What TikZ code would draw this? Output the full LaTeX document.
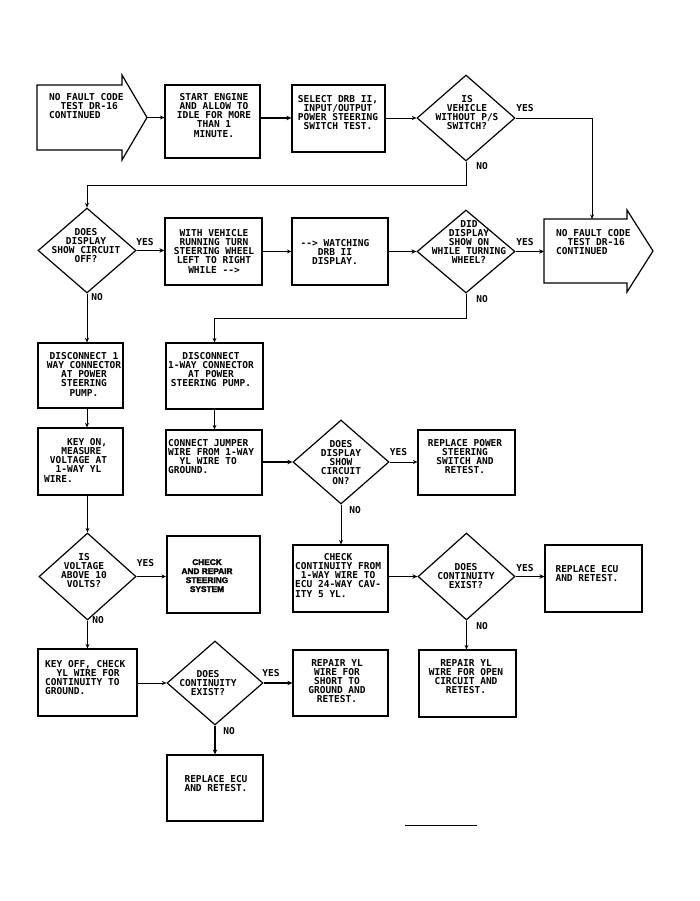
\documentclass[tikz,border=0pt]{standalone}
\usepackage{fontspec}
\setmonofont{DejaVu Sans Mono}
\newfontfamily\boldsansfam{Liberation Sans}[UprightFont=* Bold, FakeBold=2.5]
\usetikzlibrary{shapes.geometric,arrows.meta}
\newcommand\plotfont{\ttfamily\bfseries\fontsize{9.5}{9.2}\selectfont\lineskiplimit=-5pt\lineskip=0pt}
\begin{document}
\begin{tikzpicture}[x=1pt,y=-1pt,
  box/.style={draw, line width=1.2pt, inner sep=0pt, rectangle},
  dia/.style={draw, line width=1.2pt, diamond, inner sep=0pt},
  txt/.style={font=\plotfont, align=center, inner sep=0pt, anchor=north},
  ltxt/.style={font=\plotfont, align=left, inner sep=0pt, anchor=north west},
  lab/.style={font=\plotfont, inner sep=0pt},
  con/.style={line width=0.9pt, -{Stealth[length=4.5pt,width=4pt]}},
  tcon/.style={line width=1.8pt, -{Stealth[length=5pt,width=4.5pt]}},
]
\fill[white] (0,0) rectangle (699,901);
\useasboundingbox (0,0) rectangle (699,901);

% ---- start / end arrows
\draw[line width=1.2pt] (37,85) -- (122,85) -- (122,75) -- (147,117.5) -- (122,160) -- (122,150) -- (37,150) -- cycle;
\coordinate (a1tip) at (147,117.5);
\node[ltxt] (a1t) at (49,93) {NO FAULT CODE\\\phantom{XX}TEST DR-16\\CONTINUED};

\draw[line width=1.2pt] (544,219) -- (627,219) -- (627,210) -- (653,251) -- (627,292) -- (627,283) -- (544,283) -- cycle;
\coordinate (a2top) at (592,219);
\coordinate (a2left) at (544,251.5);
\node[ltxt] (a2t) at (556,229) {NO FAULT CODE\\\phantom{XX}TEST DR-16\\CONTINUED};

% ---- boxes
\node[box, minimum width=95pt, minimum height=73pt] (b2) at (212.5,121.5) {};
\node[txt] (b2t) at (214,93) {START ENGINE\\AND ALLOW TO\\IDLE FOR MORE\\THAN 1\\MINUTE.};

\node[box, minimum width=93pt, minimum height=67pt] (b3) at (338.5,118.5) {};
\node[txt] (b3t) at (338,95) {SELECT DRB II,\\INPUT/OUTPUT\\POWER STEERING\\SWITCH TEST.};

\node[box, minimum width=97pt, minimum height=67pt] (b4) at (213.5,251.5) {};
\node[txt] (b4t) at (214,229) {WITH VEHICLE\\RUNNING TURN\\STEERING WHEEL\\LEFT TO RIGHT\\WHILE -->};

\node[box, minimum width=96pt, minimum height=67pt] (b5) at (340,251.5) {};
\node[txt] (b5t) at (335,239) {--> WATCHING\\DRB II\\DISPLAY.};

\node[box, minimum width=85pt, minimum height=65pt] (b6) at (80.5,375.5) {};
\node[txt] (b6t) at (84,352) {DISCONNECT 1\\WAY CONNECTOR\\AT POWER\\STEERING\\PUMP.};

\node[box, minimum width=97pt, minimum height=66pt] (b7) at (214.5,376) {};
\node[txt] (b7t) at (211,352) {DISCONNECT\\1-WAY CONNECTOR\\AT POWER\\STEERING PUMP.};

\node[box, minimum width=85pt, minimum height=67pt] (b8) at (80.5,461.5) {};
\node[ltxt] (b8t) at (44,438) {\phantom{XXXX}KEY ON,\\\phantom{XXX}MEASURE\\\phantom{X}VOLTAGE AT\\\phantom{XX}1-WAY YL\\WIRE.};

\node[box, minimum width=96pt, minimum height=65pt] (b9) at (214,462.5) {};
\node[ltxt] (b9t) at (168,439) {CONNECT JUMPER\\WIRE FROM 1-WAY\\\phantom{XX}YL WIRE TO\\GROUND.};

\node[box, minimum width=97pt, minimum height=65pt] (b10) at (466.5,462.5) {};
\node[txt] (b10t) at (465,439) {REPLACE POWER\\STEERING\\SWITCH AND\\RETEST.};

\node[box, line width=2pt, minimum width=93pt, minimum height=77pt] (b11) at (213.5,574.5) {};
\node[font=\boldsansfam\fontsize{8.3}{9}\selectfont, align=center, inner sep=0pt, anchor=north] (b11t) at (207,559) {CHECK\\AND REPAIR\\STEERING\\SYSTEM};

\node[box, minimum width=95pt, minimum height=67pt] (b12) at (340.5,578.5) {};
\node[ltxt] (b12t) at (295,553) {\phantom{XXXXX}CHECK\\CONTINUITY FROM\\\phantom{X}1-WAY WIRE TO\\ECU 24-WAY CAV-\\ITY 5 YL.};

\node[box, minimum width=97pt, minimum height=67pt] (b13) at (593.5,578.5) {};
\node[txt] (b13t) at (587,565) {REPLACE ECU\\AND RETEST.};

\node[box, minimum width=97pt, minimum height=67pt] (b14) at (467.5,683.5) {};
\node[txt] (b14t) at (466,659) {REPAIR YL\\WIRE FOR OPEN\\CIRCUIT AND\\RETEST.};

\node[box, minimum width=99pt, minimum height=67pt] (b15) at (87.5,682.5) {};
\node[ltxt] (b15t) at (45,660) {KEY OFF, CHECK\\\phantom{XX}YL WIRE FOR\\CONTINUITY TO\\GROUND.};

\node[box, minimum width=95pt, minimum height=66pt] (b16) at (340.5,683) {};
\node[txt] (b16t) at (337,659) {REPAIR YL\\WIRE FOR\\SHORT TO\\GROUND AND\\RETEST.};

\node[box, minimum width=96pt, minimum height=66pt] (b17) at (215,788) {};
\node[txt] (b17t) at (216,775) {REPLACE ECU\\AND RETEST.};

% ---- diamonds
\node[dia, minimum width=98pt, minimum height=86pt] (d1) at (466,118) {};
\node[txt] (d1t) at (467,95) {IS\\VEHICLE\\WITHOUT P/S\\SWITCH?};

\node[dia, minimum width=98pt, minimum height=85pt] (d2) at (87,250.5) {};
\node[txt] (d2t) at (86,228) {DOES\\DISPLAY\\SHOW CIRCUIT\\OFF?};

\node[dia, minimum width=98pt, minimum height=83pt] (d3) at (466,251.5) {};
\node[txt] (d3t) at (469,220) {DID\\DISPLAY\\SHOW ON\\WHILE TURNING\\WHEEL?};

\node[dia, minimum width=96pt, minimum height=84pt] (d4) at (341,462) {};
\node[txt] (d4t) at (341,440) {DOES\\DISPLAY\\SHOW\\CIRCUIT\\ON?};

\node[dia, minimum width=97pt, minimum height=87pt] (d5) at (87.5,576.5) {};
\node[txt] (d5t) at (84,553) {IS\\VOLTAGE\\ABOVE 10\\VOLTS?};

\node[dia, minimum width=97pt, minimum height=87pt] (d6) at (466.5,576.5) {};
\node[txt] (d6t) at (466,563) {DOES\\CONTINUITY\\EXIST?};

\node[dia, minimum width=96pt, minimum height=84pt] (d7) at (215,683) {};
\node[txt] (d7t) at (208,670) {DOES\\CONTINUITY\\EXIST?};

% ---- YES / NO labels
\node[lab] (y1) at (525,108.5) {YES};
\node[lab] (n1) at (482,166.5) {NO};
\node[lab] (y2) at (145,242) {YES};
\node[lab] (n2) at (97,297.5) {NO};
\node[lab] (y3) at (525,242) {YES};
\node[lab] (n3) at (482,299) {NO};
\node[lab] (y4) at (398.5,452.5) {YES};
\node[lab] (n4) at (355,510.5) {NO};
\node[lab] (y5) at (145.5,563.5) {YES};
\node[lab] (n5) at (98,620) {NO};
\node[lab] (y6) at (525,568) {YES};
\node[lab] (n6) at (482,626) {NO};
\node[lab] (y7) at (271,673.5) {YES};
\node[lab] (n7) at (229,731) {NO};

% ---- connectors
\coordinate (j1) at (466,185);
\coordinate (j2) at (466,318);
\draw[con] (a1tip) -- (a1tip -| b2.west);
\draw[tcon] (b2.east |- d1) -- (b3.west |- d1);
\draw[con] (b3.east |- d1) -- (d1.west);
\draw[con] (d1.east) -| (a2top);
\draw[con] (d1.south) -- (j1) -| (d2.north);
\draw[tcon] (d2.east) -- (d2.east -| b4.west);
\draw[con] (b4.east) -- (b5.west);
\draw[tcon] (b5.east) -- (d3.west);
\draw[tcon] (d3.east) -- (a2left);
\draw[con] (d3.south) -- (j2) -| (b7.north);
\draw[con] (d2.south) -- (d2.south |- b6.north);
\draw[con] (d2.south |- b6.south) -- (d2.south |- b8.north);
\draw[con] (b7.south) -- (b7.south |- b9.north);
\draw[tcon] (b9.east |- d4) -- (d4.west);
\draw[con] (d4.east) -- (d4.east -| b10.west);
\draw[con] (d4.south) -- (d4.south |- b12.north);
\draw[con] (d5.north |- b8.south) -- (d5.north);
\draw[con] (d5.east) -- (d5.east -| b11.west);
\draw[con] (d5.south) -- (d5.south |- b15.north);
\draw[tcon] (b12.east |- d6) -- (d6.west);
\draw[tcon] (d6.east) -- (d6.east -| b13.west);
\draw[con] (d6.south) -- (d6.south |- b14.north);
\draw[con] (b15.east |- d7) -- (d7.west);
\draw[tcon] (d7.east) -- (d7.east -| b16.west);
\draw[tcon] (d7.south) -- (d7.south |- b17.north);

% ---- stray rule at the foot
\draw[line width=0.8pt] (405,825) -- (477,825);
\end{tikzpicture}
\end{document}
